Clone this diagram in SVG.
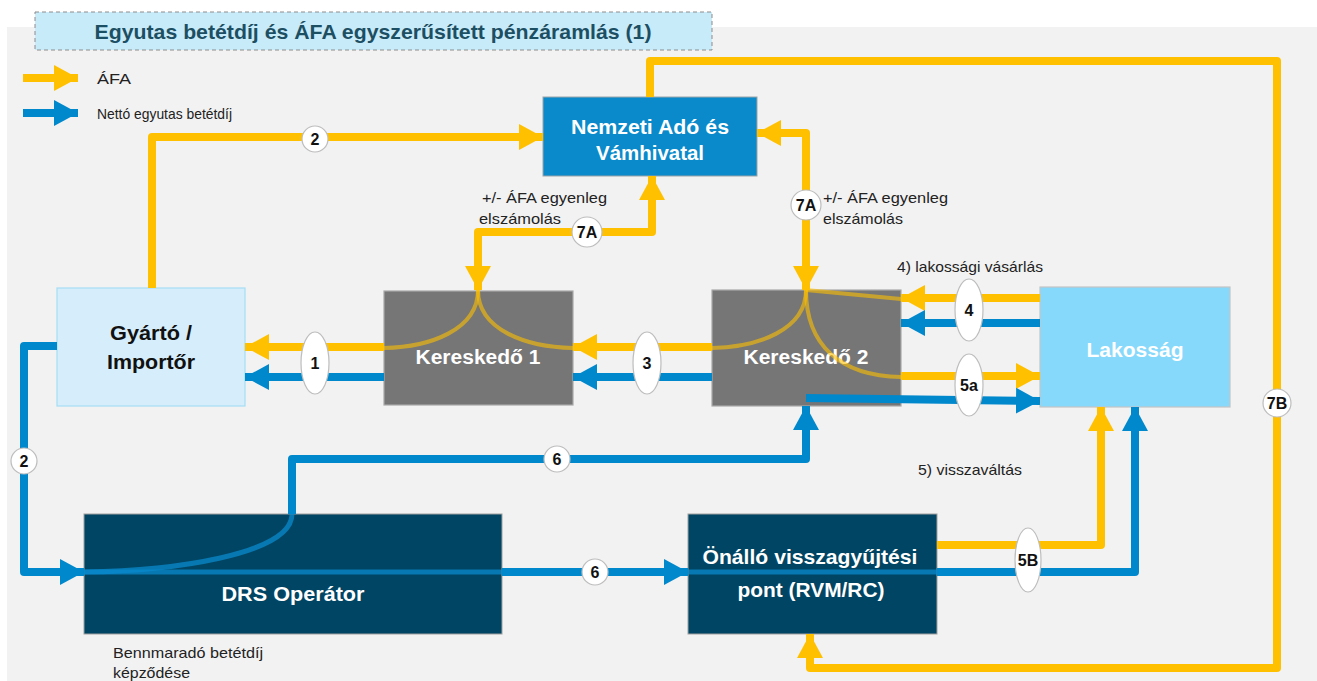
<svg xmlns="http://www.w3.org/2000/svg" width="1317" height="681" viewBox="0 0 1317 681">
<defs>
<style>
text{font-family:"Liberation Sans",Arial,sans-serif}
.lbl{font-size:15px;fill:#222}
.nt{font-size:20px;font-weight:bold;fill:#fff;text-anchor:middle}
.ntd{font-size:20px;font-weight:bold;fill:#111;text-anchor:middle}
.o{fill:none;stroke:#FFC000;stroke-width:8;stroke-linejoin:round}
.b{fill:none;stroke:#0088CC;stroke-width:8;stroke-linejoin:round}
.oc{fill:none;stroke:#FFC000;stroke-width:4;stroke-opacity:0.6}
.bc{fill:none;stroke:#0A8ACC;stroke-width:5;stroke-opacity:0.75}
.tag{fill:#fff;stroke:#BDBDBD;stroke-width:1.2}
.tt{font-size:16px;font-weight:bold;fill:#111;text-anchor:middle}
</style>
<marker id="ao" markerUnits="userSpaceOnUse" markerWidth="26" markerHeight="28" refX="24" refY="14" orient="auto-start-reverse"><path d="M0,1 L24,14 L0,27 z" fill="#FFC000"/></marker>
<marker id="ab" markerUnits="userSpaceOnUse" markerWidth="26" markerHeight="28" refX="24" refY="14" orient="auto-start-reverse"><path d="M0,1 L24,14 L0,27 z" fill="#0088CC"/></marker>
</defs>
<rect x="0" y="0" width="1317" height="681" fill="#fff"/>
<rect x="7" y="27" width="1310" height="654" fill="#F2F2F2"/>
<g id="title">
<rect x="35" y="12" width="677" height="38" fill="#C8EBFA" stroke="#8C8C8C" stroke-width="1" stroke-dasharray="4,3"/>
<text x="373" y="39" font-size="21" font-weight="bold" fill="#1D4F63" text-anchor="middle" textLength="557" lengthAdjust="spacingAndGlyphs">Egyutas betétdíj és ÁFA egyszerűsített pénzáramlás (1)</text>
</g>
<g id="legend">
<path class="o" d="M23 78 H78" marker-end="url(#ao)"/>
<text class="lbl" x="97" y="84" textLength="34" lengthAdjust="spacingAndGlyphs">ÁFA</text>
<path class="b" d="M23 113 H78" marker-end="url(#ab)"/>
<text class="lbl" x="97" y="119" textLength="135" lengthAdjust="spacingAndGlyphs">Nettó egyutas betétdíj</text>
</g>
<g id="nav">
<rect x="543" y="97" width="214" height="79" fill="#0A8ACA" stroke="#9AA5AA" stroke-width="1"/>
<text class="nt" x="650" y="134" textLength="158" lengthAdjust="spacingAndGlyphs">Nemzeti Adó és</text>
<text class="nt" x="650" y="160" textLength="108" lengthAdjust="spacingAndGlyphs">Vámhivatal</text>
</g>
<g id="gyarto">
<rect x="57" y="288" width="188" height="118" fill="#D6EEFB" stroke="#A6DCF4" stroke-width="1.2"/>
<text class="ntd" x="151" y="340" textLength="82" lengthAdjust="spacingAndGlyphs">Gyártó /</text>
<text class="ntd" x="151" y="369" textLength="88" lengthAdjust="spacingAndGlyphs">Importőr</text>
</g>
<g id="ker1">
<rect x="384" y="291" width="189" height="114" fill="#767676" stroke="#A8A8A8" stroke-width="1.2"/>
<text class="nt" x="478" y="364" textLength="125" lengthAdjust="spacingAndGlyphs">Kereskedő 1</text>
</g>
<g id="ker2">
<rect x="712" y="290" width="189" height="116" fill="#767676" stroke="#A8A8A8" stroke-width="1.2"/>
<text class="nt" x="806" y="364" textLength="125" lengthAdjust="spacingAndGlyphs">Kereskedő 2</text>
</g>
<g id="lakossag">
<rect x="1040" y="287" width="190" height="120" fill="#87D9FC" stroke="#C4C4C4" stroke-width="1.2"/>
<text class="nt" x="1135" y="357" textLength="97" lengthAdjust="spacingAndGlyphs">Lakosság</text>
</g>
<g id="drs">
<rect x="84" y="514" width="418" height="120" fill="#004563" stroke="#A0A0A0" stroke-width="1"/>
<text class="nt" x="293" y="601" textLength="143" lengthAdjust="spacingAndGlyphs">DRS Operátor</text>
</g>
<g id="onallo">
<rect x="688" y="514" width="249" height="120" fill="#004563" stroke="#A0A0A0" stroke-width="1"/>
<text class="nt" x="810" y="564" textLength="215" lengthAdjust="spacingAndGlyphs">Önálló visszagyűjtési</text>
<text class="nt" x="811" y="597" textLength="147" lengthAdjust="spacingAndGlyphs">pont (RVM/RC)</text>
</g>
<g id="connectors">
<path class="o" d="M152 288 V137 H543" marker-end="url(#ao)"/>
<path class="o" d="M650 97 V61 H1277 V668 H810 V634" marker-end="url(#ao)"/>
<path class="o" d="M757 133 H806 V290" marker-start="url(#ao)" marker-end="url(#ao)"/>
<path class="o" d="M652 176 V232 H478 V290" marker-start="url(#ao)" marker-end="url(#ao)"/>
<path class="o" d="M384 347 H245" marker-end="url(#ao)"/>
<path class="b" d="M384 377 H245" marker-end="url(#ab)"/>
<path class="o" d="M712 347 H573" marker-end="url(#ao)"/>
<path class="b" d="M712 377 H573" marker-end="url(#ab)"/>
<path class="o" d="M1040 298 H901" marker-end="url(#ao)"/>
<path class="b" d="M1040 323 H901" marker-end="url(#ab)"/>
<path class="o" d="M901 376 H1040" marker-end="url(#ao)"/>
<path class="b" d="M806 398 L1040 401" marker-end="url(#ab)"/>
<path class="b" d="M57 346 H24 V572 H84" marker-end="url(#ab)"/>
<path class="b" d="M502 572 H688" marker-end="url(#ab)"/>
<path class="b" d="M292 514 V459 H806 V406" marker-end="url(#ab)"/>
<path class="o" d="M937 545 H1101 V407" marker-end="url(#ao)"/>
<path class="b" d="M937 572 H1135 V407" marker-end="url(#ab)"/>
<path class="oc" d="M478 290 C478 330 430 347 384 348"/>
<path class="oc" d="M478 290 C478 330 526 347 573 348"/>
<path class="oc" d="M806 290 C806 330 758 347 712 348"/>
<path class="oc" d="M806 290 C806 345 840 376 901 377"/>
<path class="oc" d="M806 290 L901 299"/>
<path class="bc" d="M292 514 C292 555 170 571 84 572"/>
<path class="bc" d="M84 572 H502"/>
<path class="bc" d="M688 572 H937"/>
</g>
<g id="tags">
<circle class="tag" cx="315" cy="139" r="13"/><text class="tt" x="315" y="145">2</text>
<circle class="tag" cx="587" cy="232" r="15"/><text class="tt" x="587" y="238">7A</text>
<circle class="tag" cx="806" cy="205" r="15"/><text class="tt" x="806" y="211">7A</text>
<circle class="tag" cx="1277" cy="403" r="14"/><text class="tt" x="1277" y="409">7B</text>
<circle class="tag" cx="24" cy="461" r="13"/><text class="tt" x="24" y="467">2</text>
<circle class="tag" cx="557" cy="459" r="13"/><text class="tt" x="557" y="465">6</text>
<circle class="tag" cx="595" cy="572" r="13"/><text class="tt" x="595" y="578">6</text>
<ellipse class="tag" cx="315" cy="363" rx="14" ry="31"/><text class="tt" x="315" y="369">1</text>
<ellipse class="tag" cx="647" cy="363" rx="14" ry="31"/><text class="tt" x="647" y="369">3</text>
<ellipse class="tag" cx="969" cy="310" rx="14" ry="31"/><text class="tt" x="969" y="316">4</text>
<ellipse class="tag" cx="969" cy="385" rx="14" ry="31"/><text class="tt" x="969" y="391">5a</text>
<ellipse class="tag" cx="1028" cy="560" rx="13" ry="32"/><text class="tt" x="1028" y="566">5B</text>
</g>
<g id="labels">
<text class="lbl" x="482" y="203" textLength="125" lengthAdjust="spacingAndGlyphs">+/- ÁFA egyenleg</text>
<text class="lbl" x="479" y="224" textLength="82" lengthAdjust="spacingAndGlyphs">elszámolás</text>
<text class="lbl" x="823" y="203" textLength="125" lengthAdjust="spacingAndGlyphs">+/- ÁFA egyenleg</text>
<text class="lbl" x="823" y="224" textLength="80" lengthAdjust="spacingAndGlyphs">elszámolás</text>
<text class="lbl" x="897" y="272" textLength="146" lengthAdjust="spacingAndGlyphs">4) lakossági vásárlás</text>
<text class="lbl" x="918" y="475" textLength="104" lengthAdjust="spacingAndGlyphs">5) visszaváltás</text>
<text class="lbl" x="113" y="658" textLength="150" lengthAdjust="spacingAndGlyphs">Bennmaradó betétdíj</text>
<text class="lbl" x="113" y="678" textLength="77" lengthAdjust="spacingAndGlyphs">képződése</text>
</g>
</svg>
